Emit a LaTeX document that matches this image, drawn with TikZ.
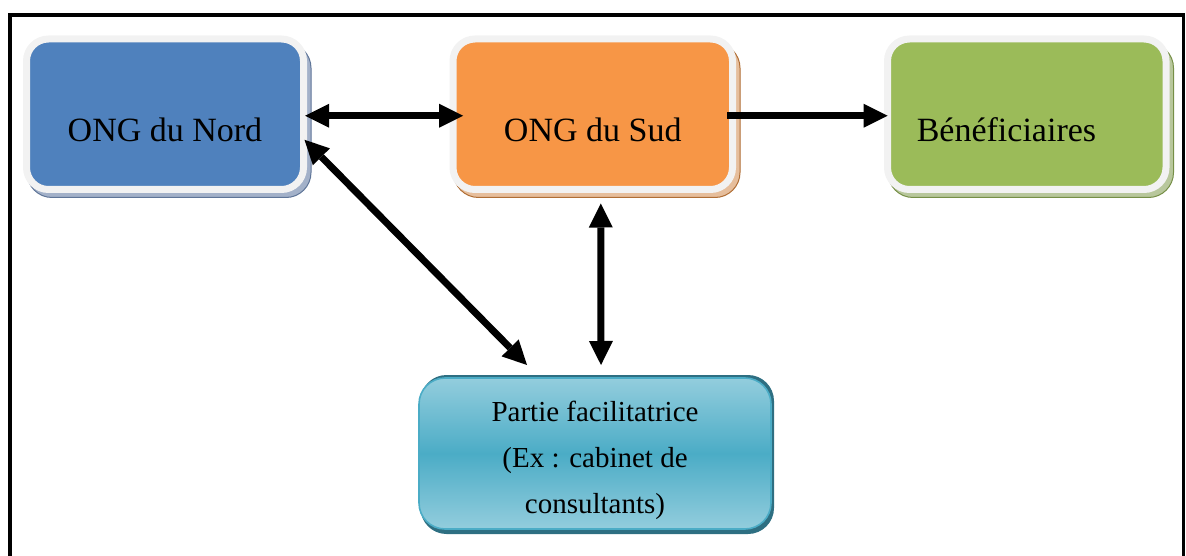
\documentclass[tikz,border=0pt]{standalone}
\usepackage{fontspec}
\setmainfont{Liberation Serif}
\usetikzlibrary{arrows.meta,backgrounds,calc}
\definecolor{rim}{HTML}{F2F2F2}
\definecolor{cblue}{HTML}{4F81BD}
\definecolor{corange}{HTML}{F79646}
\definecolor{cgreen}{HTML}{9BBB59}
\definecolor{cteal}{HTML}{4BACC6}
\definecolor{cteallight}{HTML}{93CDDD}
\definecolor{ctealdark}{HTML}{2E6F82}
\definecolor{shblue}{HTML}{A3B1C9}
\definecolor{shblueline}{HTML}{5F7598}
\definecolor{shorange}{HTML}{E6BE9C}
\definecolor{shorangeline}{HTML}{B06E35}
\definecolor{shgreen}{HTML}{B8C79C}
\definecolor{shgreenline}{HTML}{768F47}
\tikzset{
  topbox/.style={draw=rim, line width=7pt, rounded corners=22pt, inner sep=0pt, outer sep=0pt,
    minimum height=150.5pt, text height=55.5pt, text depth=0pt,
    font=\fontsize{34}{40}\selectfont},
  facbox/.style={draw=cteal, line width=1.6pt, rounded corners=26pt, inner sep=0pt, outer sep=0pt,
    minimum width=352pt, minimum height=151pt, align=center,
    top color=cteallight, bottom color=cteallight, middle color=cteal,
    font=\fontsize{29}{46}\selectfont},
  bigarrow/.style={line width=7pt, -{Triangle[length=24pt,width=24pt,line width=0pt]}},
  bigarrows/.style={line width=7pt, {Triangle[length=24pt,width=24pt,line width=0pt]}-{Triangle[length=24pt,width=24pt,line width=0pt]}},
  shadowbox/.style={rounded corners=25pt, line width=1pt}
}
\begin{document}
\begin{tikzpicture}[x=1pt,y=-1pt]
\useasboundingbox (0,0) rectangle (1186,556);
% frame
\draw[line width=3.2pt] (10,570) -- (10,15) -- (1183.5,15) -- (1183.5,570);

% boxes
\node[topbox, fill=cblue, minimum width=277pt] (nord) at (165,114.25) {ONG du Nord};
\node[topbox, fill=corange, minimum width=279.5pt] (sud) at (592.75,114.25) {ONG du Sud};
\node[topbox, fill=cgreen, minimum width=278.5pt, text width=220pt, align=left] (benef) at (1026.75,114.25) {Béné\-ficiaires};
\node[facbox] (fac) at (595,453.5) {\rule{0pt}{34pt}Partie facilitatrice\\(Ex : cabinet de\\consultants)};

% shadows
\begin{scope}[on background layer]
  \foreach \n/\f/\l in {nord/shblue/shblueline, sud/shorange/shorangeline, benef/shgreen/shgreenline}{
    \filldraw[shadowbox, fill=\f, draw=\l]
      ([shift={(0.5,8)}]\n.south west) rectangle ([shift={(7.5,4)}]\n.north east);
  }
  \fill[ctealdark, rounded corners=26pt]
    ([shift={(1.5,5)}]fac.south west) rectangle ([shift={(3,-3)}]fac.north east);
\end{scope}

% connectors
\draw[bigarrows] ([shift={(1.5,1.5)}]nord.east) -- ([shift={(10,1.5)}]sud.west);
\draw[bigarrow] ([shift={(-5.5,1.5)}]sud.east) -- ([shift={(0,1.5)}]benef.west);
\draw[bigarrows] ([shift={(8,14)}]sud.south) -- ([shift={(6,-13)}]fac.north);
\draw[bigarrows] ([shift={(1,25.5)}]nord.east) -- ([shift={(-68,-13)}]fac.north);
\end{tikzpicture}
\end{document}
